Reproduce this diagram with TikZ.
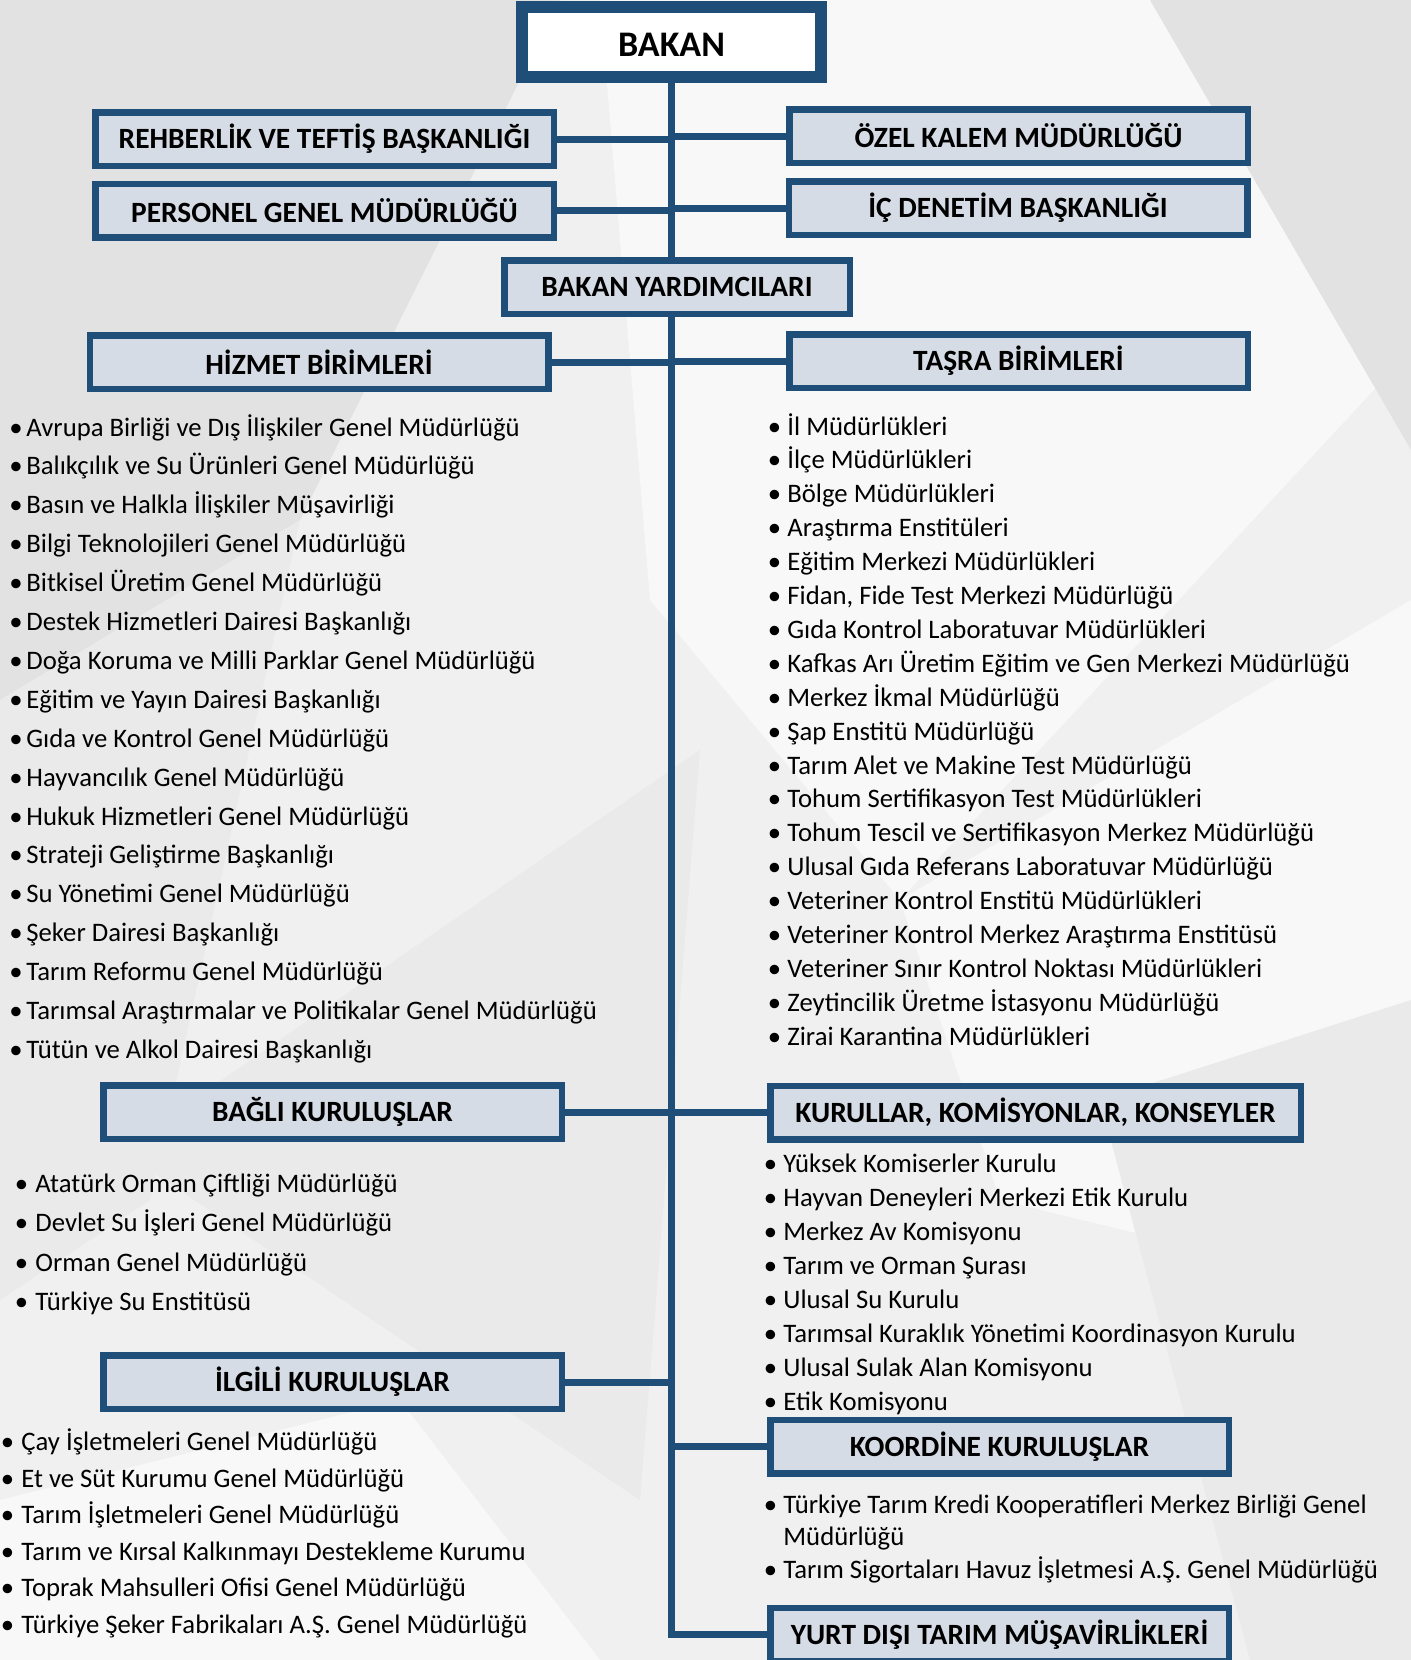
\documentclass[tikz,border=0pt]{standalone}
\usepackage{fontspec}
\setmainfont{Carlito}
\usetikzlibrary{positioning}

\definecolor{frameblue}{HTML}{1F4E79}
\definecolor{boxfill}{HTML}{D6DCE5}
\definecolor{facetdark}{HTML}{E2E2E2}
\definecolor{facetmid}{HTML}{EAEAEA}
\definecolor{facetlight}{HTML}{F8F8F8}

\pgfdeclarelayer{backdrop}
\pgfdeclarelayer{wires}
\pgfsetlayers{backdrop,wires,main}

\newcommand\itemdot[1]{\llap{\makebox[#1][c]{•}}}

\tikzset{
    unit/.style={draw=frameblue, line width=3.25pt, fill=boxfill, inner sep=0pt,
        minimum width=229.25pt, minimum height=26.75pt,
        font=\fontsize{14.7}{17}\selectfont\bfseries},
    topunit/.style={draw=frameblue, line width=6pt, fill=white, inner sep=0pt,
        minimum width=149.5pt, minimum height=35pt, text height=14.2pt, text depth=0pt,
        font=\fontsize{18}{21}\selectfont\bfseries},
    link/.style={draw=frameblue, line width=3.5pt},
    entry/.style={anchor=base west, inner sep=0pt, font=\fontsize{13.35}{15.75}\selectfont}
}

\begin{document}
\begin{tikzpicture}[x=0.5pt, y=-0.5pt]
    \useasboundingbox (0,0) rectangle (1411,1660);

    \begin{pgfonlayer}{backdrop}
        \fill[white!94!black] (0,0) rectangle (1411,1660);
        \fill[facetdark] (0,0) -- (560,0) -- (300,520) -- (0,700) -- cycle;
        \fill[facetlight] (600,0) -- (1411,0) -- (1411,350) -- (900,900) -- (650,600) -- cycle;
        \fill[facetdark] (1150,0) -- (1411,0) -- (1411,450) -- cycle;
        \fill[facetmid] (0,700) -- (300,520) -- (150,1200) -- (0,1300) -- cycle;
        \fill[facetmid] (120,1150) -- (700,750) -- (640,1500) -- cycle;
        \fill[facetlight] (900,900) -- (1411,600) -- (1411,1300) -- (1000,1200) -- cycle;
        \fill[facetmid] (1100,1100) -- (1411,1000) -- (1411,1660) -- (1250,1660) -- cycle;
        \fill[facetlight] (0,1500) -- (400,1400) -- (600,1660) -- (0,1660) -- cycle;
    \end{pgfonlayer}

    \node[topunit] (bakan) at (671.5,42) {BAKAN};
    \node[unit] (rehber) at (324.5,139) {REHBERLİK VE TEFTİŞ BAŞKANLIĞI};
    \node[unit] (personel) at (324.5,210.5) {PERSONEL GENEL MÜDÜRLÜĞÜ};
    \node[unit] (ozel) at (1018.5,136) {ÖZEL KALEM MÜDÜRLÜĞÜ};
    \node[unit] (denetim) at (1018,208) {İÇ DENETİM BAŞKANLIĞI};
    \node[unit, minimum width=172.75pt] (yard) at (677,287) {BAKAN YARDIMCILARI};
    \node[unit] (hizmet) at (319,362) {HİZMET BİRİMLERİ};
    \node[unit] (tasra) at (1018.5,361) {TAŞRA BİRİMLERİ};
    \node[unit] (bagli) at (332.5,1112) {BAĞLI KURULUŞLAR};
    \node[unit, minimum width=265.25pt] (kurullar) at (1035.5,1112.5) {KURULLAR, KOMİSYONLAR, KONSEYLER};
    \node[unit] (ilgili) at (332.5,1382) {İLGİLİ KURULUŞLAR};
    \node[unit] (koordine) at (999.5,1446.5) {KOORDİNE KURULUŞLAR};
    \node[unit] (yurtdisi) at (999.5,1634.5) {YURT DIŞI TARIM MÜŞAVİRLİKLERİ};

    \foreach \txt [count=\i] in {Avrupa Birliği ve Dış İlişkiler Genel Müdürlüğü,
            Balıkçılık ve Su Ürünleri Genel Müdürlüğü,
            Basın ve Halkla İlişkiler Müşavirliği,
            Bilgi Teknolojileri Genel Müdürlüğü,
            Bitkisel Üretim Genel Müdürlüğü,
            Destek Hizmetleri Dairesi Başkanlığı,
            Doğa Koruma ve Milli Parklar Genel Müdürlüğü,
            Eğitim ve Yayın Dairesi Başkanlığı,
            Gıda ve Kontrol Genel Müdürlüğü,
            Hayvancılık Genel Müdürlüğü,
            Hukuk Hizmetleri Genel Müdürlüğü,
            Strateji Geliştirme Başkanlığı,
            Su Yönetimi Genel Müdürlüğü,
            Şeker Dairesi Başkanlığı,
            Tarım Reformu Genel Müdürlüğü,
            Tarımsal Araştırmalar ve Politikalar Genel Müdürlüğü,
            Tütün ve Alkol Dairesi Başkanlığı}
        \node[entry] (hz\i) at (26,{436+(\i-1)*38.9}) {\itemdot{10.5pt}\txt};

    \foreach \txt [count=\i] in {İl Müdürlükleri,
            İlçe Müdürlükleri,
            Bölge Müdürlükleri,
            Araştırma Enstitüleri,
            Eğitim Merkezi Müdürlükleri,
            {Fidan, Fide Test Merkezi Müdürlüğü},
            Gıda Kontrol Laboratuvar Müdürlükleri,
            Kafkas Arı Üretim Eğitim ve Gen Merkezi Müdürlüğü,
            Merkez İkmal Müdürlüğü,
            Şap Enstitü Müdürlüğü,
            Tarım Alet ve Makine Test Müdürlüğü,
            Tohum Sertifikasyon Test Müdürlükleri,
            Tohum Tescil ve Sertifikasyon Merkez Müdürlüğü,
            Ulusal Gıda Referans Laboratuvar Müdürlüğü,
            Veteriner Kontrol Enstitü Müdürlükleri,
            Veteriner Kontrol Merkez Araştırma Enstitüsü,
            Veteriner Sınır Kontrol Noktası Müdürlükleri,
            Zeytincilik Üretme İstasyonu Müdürlüğü,
            Zirai Karantina Müdürlükleri}
        \node[entry] (ts\i) at (787,{435+(\i-1)*33.9}) {\itemdot{13pt}\txt};

    \foreach \txt [count=\i] in {Atatürk Orman Çiftliği Müdürlüğü,
            Devlet Su İşleri Genel Müdürlüğü,
            Orman Genel Müdürlüğü,
            Türkiye Su Enstitüsü}
        \node[entry] (bg\i) at (35,{1192+(\i-1)*39.6}) {\itemdot{14pt}\txt};

    \foreach \txt [count=\i] in {Yüksek Komiserler Kurulu,
            Hayvan Deneyleri Merkezi Etik Kurulu,
            Merkez Av Komisyonu,
            Tarım ve Orman Şurası,
            Ulusal Su Kurulu,
            Tarımsal Kuraklık Yönetimi Koordinasyon Kurulu,
            Ulusal Sulak Alan Komisyonu,
            Etik Komisyonu}
        \node[entry] (kr\i) at (783,{1172+(\i-1)*34}) {\itemdot{13pt}\txt};

    \foreach \txt [count=\i] in {Çay İşletmeleri Genel Müdürlüğü,
            Et ve Süt Kurumu Genel Müdürlüğü,
            Tarım İşletmeleri Genel Müdürlüğü,
            Tarım ve Kırsal Kalkınmayı Destekleme Kurumu,
            Toprak Mahsulleri Ofisi Genel Müdürlüğü,
            Türkiye Şeker Fabrikaları A.Ş. Genel Müdürlüğü}
        \node[entry] (il\i) at (21,{1450.5+(\i-1)*36.6}) {\itemdot{14pt}\txt};

    \node[entry, align=left] (ko1) at (783,1545)
        {\itemdot{13pt}Türkiye Tarım Kredi Kooperatifleri Merkez Birliği Genel\\Müdürlüğü};
    \node[entry] (ko2) at (783,1578.5) {\itemdot{13pt}Tarım Sigortaları Havuz İşletmesi A.Ş. Genel Müdürlüğü};

    \begin{pgfonlayer}{wires}
        \draw[link] (bakan.south) |- (yurtdisi.west);
        \draw[link] (rehber) -- (rehber -| bakan.south);
        \draw[link] (personel) -- (personel -| bakan.south);
        \draw[link] (ozel) -- (ozel -| bakan.south);
        \draw[link] (denetim) -- (denetim -| bakan.south);
        \draw[link] (hizmet) -- (hizmet -| bakan.south);
        \draw[link] (tasra) -- (tasra -| bakan.south);
        \draw[link] (bagli) -- (bagli -| bakan.south);
        \draw[link] (kurullar) -- (kurullar -| bakan.south);
        \draw[link] (ilgili) -- (ilgili -| bakan.south);
        \draw[link] (koordine) -- (koordine -| bakan.south);
    \end{pgfonlayer}
\end{tikzpicture}
\end{document}
